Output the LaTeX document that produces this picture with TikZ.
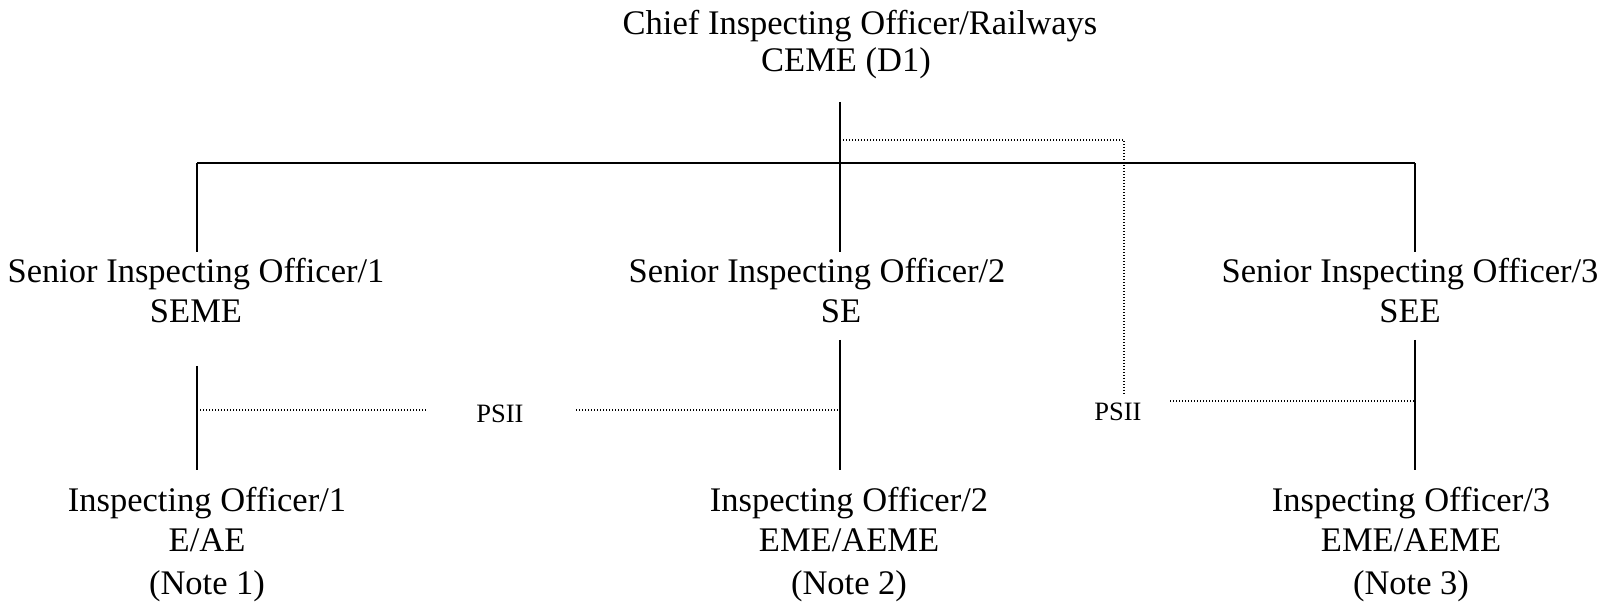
\documentclass[tikz,border=0pt]{standalone}
\usepackage{fontspec}
\setmainfont{Liberation Serif}
\begin{document}
\begin{tikzpicture}[x=0.5pt,y=-0.5pt,
  post/.style={inner sep=0pt, align=center, anchor=base,
    font=\fontsize{17.25}{20}\selectfont},
  tag/.style={inner sep=0pt, anchor=base, font=\fontsize{13.25}{15}\selectfont},
  solidline/.style={line width=1pt},
  dotline/.style={line width=0.6pt, dash pattern=on 0.5pt off 1pt}]
\useasboundingbox (0,0) rectangle (1601,608);

% posts (each node sits on the baseline of its last line)
\node[post] (chief) at (860,72) {Chief Inspecting Officer/Railways\\[-1.5pt]CEME (D1)\hspace*{14pt}};
\node[post] (sio1) at (196,323) {Senior Inspecting Officer/1\\SEME};
\node[post] (sio2) at (817,323) {Senior Inspecting Officer/2\\\hspace*{24pt}SE};
\node[post] (sio3) at (1410,323) {Senior Inspecting Officer/3\\SEE};
\node[post] (io1) at (207,595) {Inspecting Officer/1\\E/AE\\[1.5pt](Note 1)};
\node[post] (io2) at (849,595) {Inspecting Officer/2\\EME/AEME\\[1.5pt](Note 2)};
\node[post] (io3) at (1411,595) {Inspecting Officer/3\\EME/AEME\\[1.5pt](Note 3)};
\node[tag] (psii1) at (500,423) {PSII};
\node[tag] (psii2) at (1118,421) {PSII};

% line ends and junctions
\coordinate (top) at (840,102);
\coordinate (lj) at (197,163);
\coordinate (rj) at (1415,163);
\coordinate (s1t) at (197,252);
\coordinate (s2t) at (840,252);
\coordinate (s3t) at (1415,252);
\coordinate (s1b) at (197,366);
\coordinate (s2b) at (840,340);
\coordinate (s3b) at (1415,340);
\coordinate (i1) at (197,470);
\coordinate (i2) at (840,470);
\coordinate (i3) at (1415,470);

% solid reporting lines
\draw[solidline] (top) -- (s2t);
\draw[solidline] (lj) -- (rj);
\draw[solidline] (lj) -- (s1t);
\draw[solidline] (rj) -- (s3t);
\draw[solidline] (s1b) -- (i1);
\draw[solidline] (s2b) -- (i2);
\draw[solidline] (s3b) -- (i3);

% dotted PSII links
\coordinate (d1) at (840,140);
\coordinate (d2) at (1124,396);
\draw[dotline] (d1) -| (d2);
\coordinate (pa1) at (197,410);
\coordinate (pa2) at (428,410);
\coordinate (pa3) at (576,410);
\coordinate (pa4) at (840,410);
\draw[dotline] (pa1) -- (pa2);
\draw[dotline] (pa3) -- (pa4);
\coordinate (pb1) at (1170,401);
\coordinate (pb2) at (1415,401);
\draw[dotline] (pb1) -- (pb2);
\end{tikzpicture}
\end{document}
